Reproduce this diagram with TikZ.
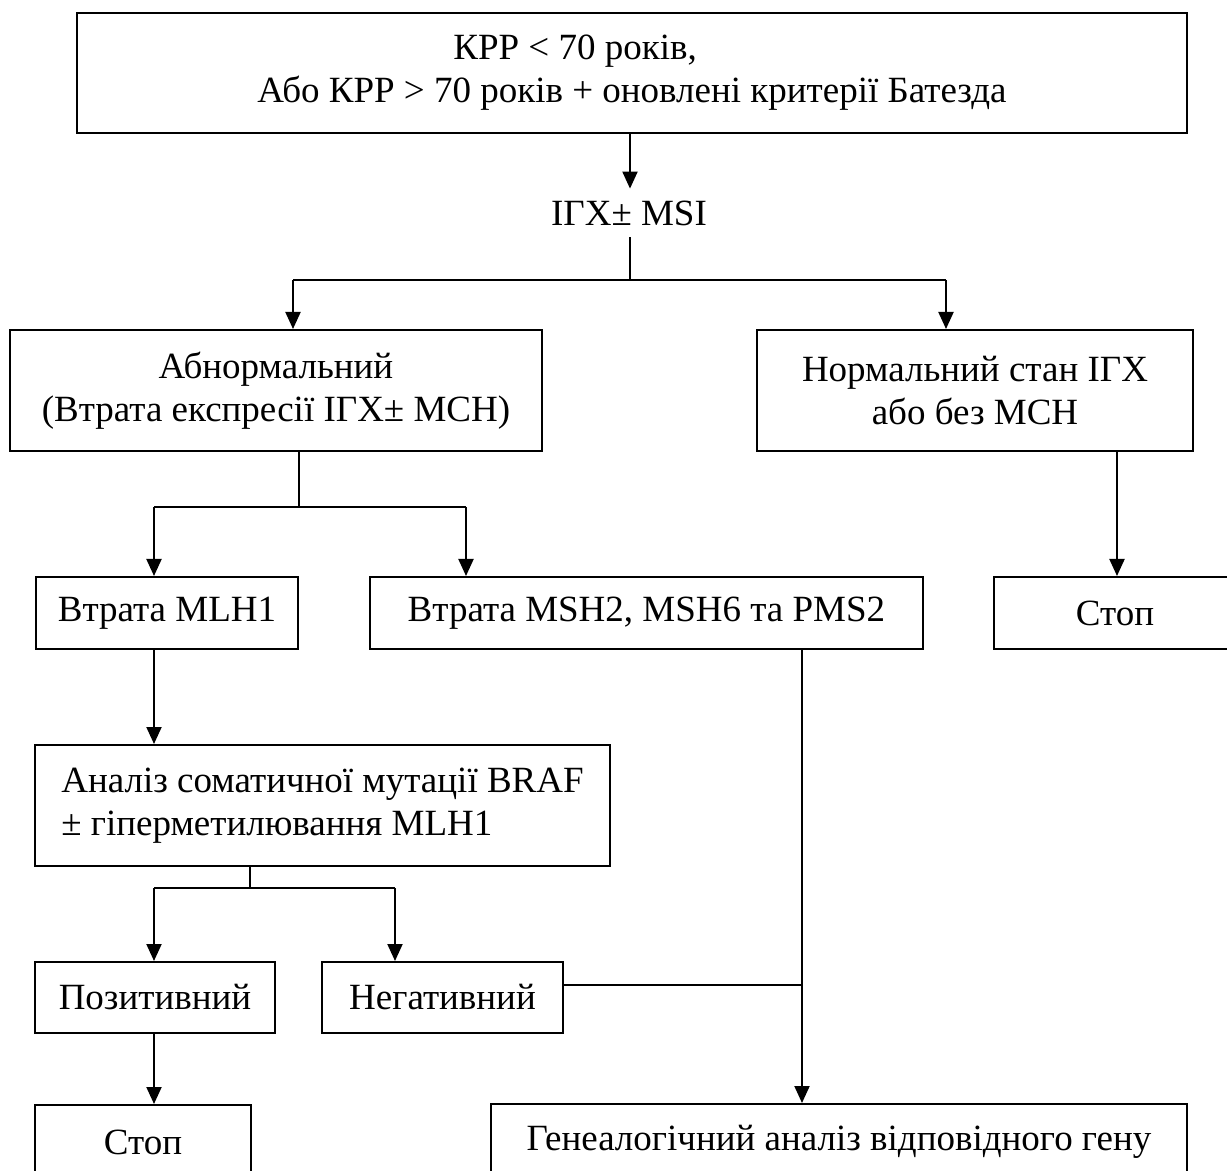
\documentclass[tikz,border=0pt]{standalone}
\usepackage{fontspec}
\setmainfont{Liberation Serif}
\usetikzlibrary{arrows.meta,calc}
\begin{document}
\begin{tikzpicture}[x=0.5pt,y=-0.5pt,
  every node/.style={font=\fontsize{18.5pt}{21.5pt}\selectfont},
  box/.style={draw,line width=1pt,rectangle,inner sep=0pt,align=center},
  conn/.style={line width=1pt},
  arr/.style={line width=1pt,-{Triangle[length=8.5pt,width=7.5pt]}}]
\useasboundingbox (0,0) rectangle (1227,1171);
% boxes
\node[box,minimum width=555pt,minimum height=60pt,align=left] (top) at (632,73)
  {\hspace*{98pt}КРР < 70 років,\\Або КРР > 70 років + оновлені критерії Батезда};
\node[inner sep=0pt,minimum height=24pt] (igx) at (629,213) {ІГХ± MSI};
\node[box,minimum width=266pt,minimum height=60.5pt] (abn) at (276,390.5)
  {Абнормальний\\(Втрата експресії ІГХ± МСН)};
\node[box,minimum width=218pt,minimum height=60.5pt] (norm) at (975,390.5)
  {Нормальний стан ІГХ\\або без МСН};
\node[box,minimum width=131pt,minimum height=36pt] (mlh) at (167,613) {Втрата MLH1};
\node[box,minimum width=276.5pt,minimum height=36pt] (msh) at (646.5,613) {Втрата MSH2, MSH6 та PMS2};
\node[box,minimum width=121pt,minimum height=36pt] (stopA) at (1115,613) {Стоп};
\node[box,minimum width=287.5pt,minimum height=60.5pt,align=left] (anal) at (322.5,805.5)
  {Аналіз соматичної мутації BRAF\\± гіперметилювання MLH1};
\node[box,minimum width=120pt,minimum height=35.5pt] (pos) at (155,997.5) {Позитивний};
\node[box,minimum width=120.5pt,minimum height=35.5pt] (neg) at (442.5,997.5) {Негативний};
\node[box,minimum width=108pt,minimum height=37.5pt] (stopB) at (143,1142.5) {Стоп};
\node[box,minimum width=348pt,minimum height=38pt] (gen) at (839,1142) {Генеалогічний аналіз відповідного гену};
% junction coordinates
\coordinate (t1) at (630,133);
\coordinate (j1) at (630,280);
\coordinate (j1l) at (293,280);
\coordinate (j1r) at (946,280);
\coordinate (a1) at (299,451);
\coordinate (j2) at (299,507);
\coordinate (j2l) at (154,507);
\coordinate (j2r) at (466,507);
\coordinate (n1) at (1117,451);
\coordinate (m1) at (154,649);
\coordinate (b1) at (250,866);
\coordinate (j3) at (250,888);
\coordinate (j3l) at (154,888);
\coordinate (j3r) at (395,888);
\coordinate (s1) at (802,649);
\coordinate (ne) at (563,985);
\coordinate (p1) at (154,1033);
% connectors
\draw[arr] (t1) -- (t1 |- igx.north);
\draw[conn] (igx.south -| j1) -- (j1);
\draw[conn] (j1l) -- (j1r);
\draw[arr] (j1l) -- (j1l |- abn.north);
\draw[arr] (j1r) -- (j1r |- norm.north);
\draw[conn] (a1) -- (j2);
\draw[conn] (j2l) -- (j2r);
\draw[arr] (j2l) -- (j2l |- mlh.north);
\draw[arr] (j2r) -- (j2r |- msh.north);
\draw[arr] (n1) -- (n1 |- stopA.north);
\draw[arr] (m1) -- (m1 |- anal.north);
\draw[conn] (b1) -- (j3);
\draw[conn] (j3l) -- (j3r);
\draw[arr] (j3l) -- (j3l |- pos.north);
\draw[arr] (j3r) -- (j3r |- neg.north);
\draw[arr] (s1) -- (s1 |- gen.north);
\draw[conn] (ne) -- (ne -| s1);
\draw[arr] (p1) -- (p1 |- stopB.north);
\end{tikzpicture}
\end{document}
